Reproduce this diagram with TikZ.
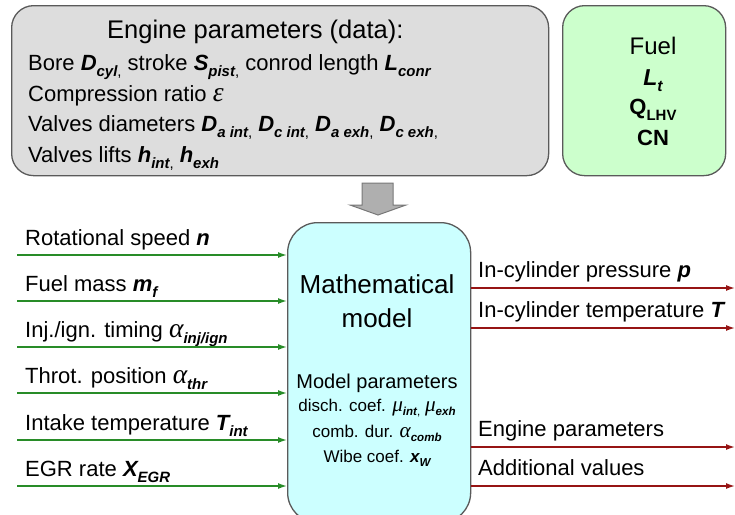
\documentclass[tikz,border=0pt]{standalone}
\usepackage{graphicx}
\usepackage{fontspec}
\setmainfont{Liberation Sans}
\newfontfamily\grk{Liberation Serif}
\usetikzlibrary{arrows.meta}
\newcommand\bi[1]{{\bfseries\itshape #1}}
\newcommand\sbs[1]{\raisebox{-0.28em}{\scalebox{0.68}{#1}}}
\newcommand\gi[1]{\scalebox{1.25}{\grk\itshape #1}}
\definecolor{boxline}{RGB}{90,90,90}
\definecolor{grayfill}{RGB}{221,221,221}
\definecolor{fuelfill}{RGB}{204,255,204}
\definecolor{modelfill}{RGB}{204,255,255}
\definecolor{ingreen}{RGB}{40,140,40}
\definecolor{outred}{RGB}{150,20,20}
\definecolor{blockfill}{RGB}{175,175,175}
\definecolor{blockline}{RGB}{120,120,120}
\begin{document}
\begin{tikzpicture}[x=1pt,y=-1pt,
  box/.style={draw=boxline, line width=1.3pt, inner sep=0pt, anchor=north west},
  lbl/.style={anchor=base west, inner sep=0pt, font=\fontsize{22}{26}\selectfont},
  ctr/.style={anchor=base, inner sep=0pt},
  inarr/.style={draw=ingreen, line width=1.5pt, -{Latex[length=9pt,width=6pt]}},
  outarr/.style={draw=outred, line width=1.5pt, -{Latex[length=9pt,width=6pt]}}]
\useasboundingbox (0,0) rectangle (735,514);

% boxes
\node[box, fill=grayfill, rounded corners=22pt, minimum width=537pt, minimum height=170pt] (eng) at (11,5) {};
\node[box, fill=fuelfill, rounded corners=22pt, minimum width=163pt, minimum height=170pt] (fuel) at (562,5) {};
\node[box, fill=modelfill, rounded corners=30pt, minimum width=183pt, minimum height=300pt] (model) at (287,222) {};

% block arrow
\draw[draw=blockline, fill=blockfill, line width=1pt] (362,183) -- (393,183) -- (393,205) -- (406,205) -- (378,215) -- (350,205) -- (362,205) -- cycle;

% engine parameter text
\node[lbl, font=\fontsize{25.5}{30}\selectfont] (t0) at (107,38) {Engine parameters (data):};
\node[lbl] (t1) at (28,70) {Bore \bi{D}\sbs{\bi{cyl},} stroke \bi{S}\sbs{\bi{pist},} conrod length \bi{L}\sbs{\bi{conr}}};
\node[lbl] (t2) at (28,101) {Compression ratio \gi{ε}};
\node[lbl] (t3) at (28,131) {Valves diameters \bi{D}\sbs{\bi{a int},} \bi{D}\sbs{\bi{c int},} \bi{D}\sbs{\bi{a exh},} \bi{D}\sbs{\bi{c exh},}};
\node[lbl] (t4) at (28,162) {Valves lifts \bi{h}\sbs{\bi{int},} \bi{h}\sbs{\bi{exh}}};

% fuel text
\node[ctr, font=\fontsize{24}{28}\selectfont] (f1) at (653,54) {Fuel};
\node[ctr, font=\fontsize{23}{28}\selectfont] (f2) at (653,85) {\bi{L}\sbs{\bi{t}}};
\node[ctr, font=\fontsize{22}{28}\selectfont\bfseries] (f3) at (653,114) {Q\sbs{LHV}};
\node[ctr, font=\fontsize{22}{28}\selectfont\bfseries] (f4) at (653,145) {CN};

% model text
\node[ctr, font=\fontsize{26}{30}\selectfont] (m1) at (377,293) {Mathematical};
\node[ctr, font=\fontsize{26}{30}\selectfont] (m2) at (377,327) {model};
\node[ctr, font=\fontsize{20}{24}\selectfont] (m3) at (377,388) {Model parameters};
\node[ctr, font=\fontsize{17}{20}\selectfont] (m4) at (377,411) {disch. coef. \gi{μ}\sbs{\bi{int},} \gi{μ}\sbs{\bi{exh}}};
\node[ctr, font=\fontsize{17}{20}\selectfont] (m5) at (377,437) {comb. dur. \gi{α}\sbs{\bi{comb}}};
\node[ctr, font=\fontsize{17}{20}\selectfont] (m6) at (377,462) {Wibe coef. \bi{x}\sbs{\bi{W}}};

% inputs
\foreach \y/\t [count=\i] in {255/{Rotational speed \bi{n}},
  301/{Fuel mass \bi{m}\sbs{\bi{f}}},
  347/{Inj./ign. timing \gi{α}\sbs{\bi{inj/ign}}},
  393/{Throt. position \gi{α}\sbs{\bi{thr}}},
  440/{Intake temperature \bi{T}\sbs{\bi{int}}},
  486/{EGR rate \bi{X}\sbs{\bi{EGR}}}}{
  \coordinate (in\i) at (17,\y);
  \node[lbl] (il\i) at (25,\y-10) {\t};
  \draw[inarr] (in\i) -- (in\i -| model.west);
}

% outputs
\foreach \y/\t [count=\i] in {288/{In-cylinder pressure \bi{p}},
  328/{In-cylinder temperature \bi{T}},
  447/{Engine parameters},
  486/{Additional values}}{
  \coordinate (out\i) at (735,\y);
  \node[lbl] (ol\i) at (478,\y-11) {\t};
  \draw[outarr] (out\i -| model.east) -- (out\i);
}
\end{tikzpicture}
\end{document}
